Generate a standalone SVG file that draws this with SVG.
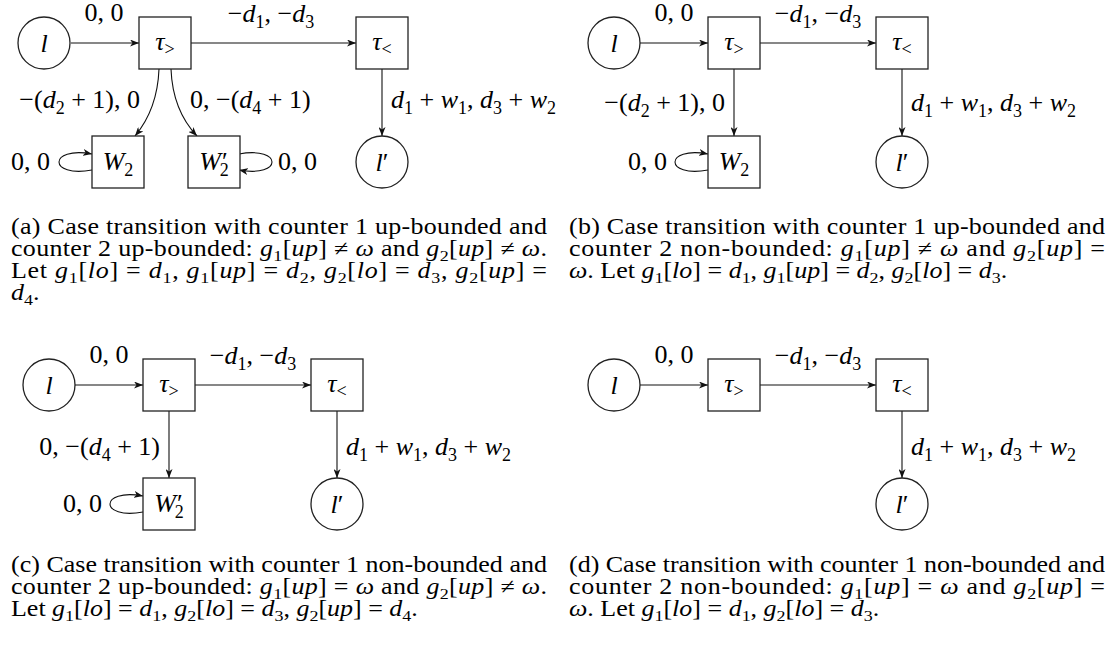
<svg xmlns="http://www.w3.org/2000/svg" width="1119" height="647" viewBox="0 0 1119 647">
<defs>
<style>
text{font-family:"Liberation Serif","Times New Roman",serif;font-size:26px;fill:#000}
.i{font-style:italic}
.sub{font-size:18px}
.node rect,.node circle{fill:#fff;stroke:#222;stroke-width:1.3}
.edge{fill:none;stroke:#111;stroke-width:1.1;marker-end:url(#arr)}
</style>
<marker id="arr" markerUnits="userSpaceOnUse" markerWidth="9" markerHeight="7" refX="9" refY="3.5" orient="auto">
<path d="M0,0 L9,3.5 L0,7 L2.5,3.5 z" fill="#111"/>
</marker>
</defs>
<rect width="1119" height="647" fill="#fff"/>

<!-- Panel (a) -->
<g id="panel-a">
<g id="a-connectors">
<path class="edge" d="M71,43 L139,43"/>
<path class="edge" d="M191,43 L356,43"/>
<path class="edge" d="M382,69 L382,136"/>
<path class="edge" d="M159,69 C158,95 150,118 135,136"/>
<path class="edge" d="M171,69 C172,95 180,118 197,136"/>
<path class="edge" d="M92,170 C48,178 48,146 92,154"/>
<path class="edge" d="M239,154 C283,146 283,178 239,170"/>
<text x="104" y="21" text-anchor="middle">0, 0</text>
<text x="271" y="22" text-anchor="middle">−<tspan class="i">d</tspan><tspan class="sub" dy="6">1</tspan><tspan dy="-6">, −</tspan><tspan class="i">d</tspan><tspan class="sub" dy="6">3</tspan></text>
<text x="140" y="108" text-anchor="end">−(<tspan class="i">d</tspan><tspan class="sub" dy="6">2</tspan><tspan dy="-6"> + 1), 0</tspan></text>
<text x="190" y="108">0, −(<tspan class="i">d</tspan><tspan class="sub" dy="6">4</tspan><tspan dy="-6"> + 1)</tspan></text>
<text x="391" y="108"><tspan class="i">d</tspan><tspan class="sub" dy="6">1</tspan><tspan dy="-6"> + </tspan><tspan class="i">w</tspan><tspan class="sub" dy="6">1</tspan><tspan dy="-6">, </tspan><tspan class="i">d</tspan><tspan class="sub" dy="6">3</tspan><tspan dy="-6"> + </tspan><tspan class="i">w</tspan><tspan class="sub" dy="6">2</tspan></text>
<text x="50" y="170" text-anchor="end">0, 0</text>
<text x="278" y="170">0, 0</text>
</g>
<g id="a-l" class="node"><circle cx="44" cy="43" r="26"/><text x="44" y="52" text-anchor="middle" class="i">l</text></g>
<g id="a-tau-gt" class="node"><rect x="139" y="17" width="52" height="52"/><text x="165" y="50" text-anchor="middle"><tspan class="i">τ</tspan><tspan class="sub" dy="5">&gt;</tspan></text></g>
<g id="a-tau-lt" class="node"><rect x="356" y="17" width="52" height="52"/><text x="382" y="50" text-anchor="middle"><tspan class="i">τ</tspan><tspan class="sub" dy="5">&lt;</tspan></text></g>
<g id="a-W2" class="node"><rect x="92" y="136" width="52" height="52"/><text x="118" y="170" text-anchor="middle"><tspan class="i">W</tspan><tspan class="sub" dy="6">2</tspan></text></g>
<g id="a-W2p" class="node"><rect x="188" y="136" width="52" height="52"/><text x="214" y="170" text-anchor="middle"><tspan class="i">W</tspan><tspan dx="1">′</tspan><tspan class="sub" dx="-8" dy="6">2</tspan></text></g>
<g id="a-lp" class="node"><circle cx="382" cy="162" r="26"/><text x="382" y="171" text-anchor="middle"><tspan class="i">l</tspan>′</text></g>
<g id="a-caption">
<text transform="translate(11 234) scale(1 0.85)" textLength="536" lengthAdjust="spacing">(a) Case transition with counter 1 up-bounded and</text>
<text transform="translate(11 256) scale(1 0.85)" textLength="536" lengthAdjust="spacing">counter 2 up-bounded: <tspan class="i">g</tspan><tspan class="sub" dy="6">1</tspan><tspan dy="-6">[</tspan><tspan class="i">up</tspan>] ≠ <tspan class="i">ω</tspan> and <tspan class="i">g</tspan><tspan class="sub" dy="6">2</tspan><tspan dy="-6">[</tspan><tspan class="i">up</tspan>] ≠ <tspan class="i">ω</tspan>.</text>
<text transform="translate(11 278) scale(1 0.85)" textLength="536" lengthAdjust="spacing">Let <tspan class="i">g</tspan><tspan class="sub" dy="6">1</tspan><tspan dy="-6">[</tspan><tspan class="i">lo</tspan>] = <tspan class="i">d</tspan><tspan class="sub" dy="6">1</tspan><tspan dy="-6">, </tspan><tspan class="i">g</tspan><tspan class="sub" dy="6">1</tspan><tspan dy="-6">[</tspan><tspan class="i">up</tspan>] = <tspan class="i">d</tspan><tspan class="sub" dy="6">2</tspan><tspan dy="-6">, </tspan><tspan class="i">g</tspan><tspan class="sub" dy="6">2</tspan><tspan dy="-6">[</tspan><tspan class="i">lo</tspan>] = <tspan class="i">d</tspan><tspan class="sub" dy="6">3</tspan><tspan dy="-6">, </tspan><tspan class="i">g</tspan><tspan class="sub" dy="6">2</tspan><tspan dy="-6">[</tspan><tspan class="i">up</tspan>] =</text>
<text transform="translate(11 300) scale(1 0.85)"><tspan class="i">d</tspan><tspan class="sub" dy="6">4</tspan><tspan dy="-6">.</tspan></text>
</g>
</g>

<!-- Panel (b) -->
<g id="panel-b">
<g id="b-connectors">
<path class="edge" d="M640,43 L708,43"/>
<path class="edge" d="M760,43 L876,43"/>
<path class="edge" d="M734,69 L734,136"/>
<path class="edge" d="M902,69 L902,136"/>
<path class="edge" d="M708,170 C664,178 664,146 708,154"/>
<text x="674" y="21" text-anchor="middle">0, 0</text>
<text x="818" y="22" text-anchor="middle">−<tspan class="i">d</tspan><tspan class="sub" dy="6">1</tspan><tspan dy="-6">, −</tspan><tspan class="i">d</tspan><tspan class="sub" dy="6">3</tspan></text>
<text x="725" y="111" text-anchor="end">−(<tspan class="i">d</tspan><tspan class="sub" dy="6">2</tspan><tspan dy="-6"> + 1), 0</tspan></text>
<text x="911" y="111"><tspan class="i">d</tspan><tspan class="sub" dy="6">1</tspan><tspan dy="-6"> + </tspan><tspan class="i">w</tspan><tspan class="sub" dy="6">1</tspan><tspan dy="-6">, </tspan><tspan class="i">d</tspan><tspan class="sub" dy="6">3</tspan><tspan dy="-6"> + </tspan><tspan class="i">w</tspan><tspan class="sub" dy="6">2</tspan></text>
<text x="667" y="170" text-anchor="end">0, 0</text>
</g>
<g id="b-l" class="node"><circle cx="614" cy="43" r="26"/><text x="614" y="52" text-anchor="middle" class="i">l</text></g>
<g id="b-tau-gt" class="node"><rect x="708" y="17" width="52" height="52"/><text x="734" y="50" text-anchor="middle"><tspan class="i">τ</tspan><tspan class="sub" dy="5">&gt;</tspan></text></g>
<g id="b-tau-lt" class="node"><rect x="876" y="17" width="52" height="52"/><text x="902" y="50" text-anchor="middle"><tspan class="i">τ</tspan><tspan class="sub" dy="5">&lt;</tspan></text></g>
<g id="b-W2" class="node"><rect x="708" y="136" width="52" height="52"/><text x="734" y="170" text-anchor="middle"><tspan class="i">W</tspan><tspan class="sub" dy="6">2</tspan></text></g>
<g id="b-lp" class="node"><circle cx="902" cy="162" r="26"/><text x="902" y="171" text-anchor="middle"><tspan class="i">l</tspan>′</text></g>
<g id="b-caption">
<text transform="translate(569 234) scale(1 0.85)" textLength="536" lengthAdjust="spacing">(b) Case transition with counter 1 up-bounded and</text>
<text transform="translate(569 256) scale(1 0.85)" textLength="536" lengthAdjust="spacing">counter 2 non-bounded: <tspan class="i">g</tspan><tspan class="sub" dy="6">1</tspan><tspan dy="-6">[</tspan><tspan class="i">up</tspan>] ≠ <tspan class="i">ω</tspan> and <tspan class="i">g</tspan><tspan class="sub" dy="6">2</tspan><tspan dy="-6">[</tspan><tspan class="i">up</tspan>] =</text>
<text transform="translate(569 278) scale(1 0.85)"><tspan class="i">ω</tspan>. Let <tspan class="i">g</tspan><tspan class="sub" dy="6">1</tspan><tspan dy="-6">[</tspan><tspan class="i">lo</tspan>] = <tspan class="i">d</tspan><tspan class="sub" dy="6">1</tspan><tspan dy="-6">, </tspan><tspan class="i">g</tspan><tspan class="sub" dy="6">1</tspan><tspan dy="-6">[</tspan><tspan class="i">up</tspan>] = <tspan class="i">d</tspan><tspan class="sub" dy="6">2</tspan><tspan dy="-6">, </tspan><tspan class="i">g</tspan><tspan class="sub" dy="6">2</tspan><tspan dy="-6">[</tspan><tspan class="i">lo</tspan>] = <tspan class="i">d</tspan><tspan class="sub" dy="6">3</tspan><tspan dy="-6">.</tspan></text>
</g>
</g>

<!-- Panel (c) -->
<g id="panel-c">
<g id="c-connectors">
<path class="edge" d="M75,385 L143,385"/>
<path class="edge" d="M195,385 L311,385"/>
<path class="edge" d="M169,411 L169,478"/>
<path class="edge" d="M337,411 L337,478"/>
<path class="edge" d="M143,512 C99,520 99,488 143,496"/>
<text x="109" y="363" text-anchor="middle">0, 0</text>
<text x="253" y="364" text-anchor="middle">−<tspan class="i">d</tspan><tspan class="sub" dy="6">1</tspan><tspan dy="-6">, −</tspan><tspan class="i">d</tspan><tspan class="sub" dy="6">3</tspan></text>
<text x="160" y="455" text-anchor="end">0, −(<tspan class="i">d</tspan><tspan class="sub" dy="6">4</tspan><tspan dy="-6"> + 1)</tspan></text>
<text x="346" y="455"><tspan class="i">d</tspan><tspan class="sub" dy="6">1</tspan><tspan dy="-6"> + </tspan><tspan class="i">w</tspan><tspan class="sub" dy="6">1</tspan><tspan dy="-6">, </tspan><tspan class="i">d</tspan><tspan class="sub" dy="6">3</tspan><tspan dy="-6"> + </tspan><tspan class="i">w</tspan><tspan class="sub" dy="6">2</tspan></text>
<text x="102" y="512" text-anchor="end">0, 0</text>
</g>
<g id="c-l" class="node"><circle cx="49" cy="385" r="26"/><text x="49" y="394" text-anchor="middle" class="i">l</text></g>
<g id="c-tau-gt" class="node"><rect x="143" y="359" width="52" height="52"/><text x="169" y="392" text-anchor="middle"><tspan class="i">τ</tspan><tspan class="sub" dy="5">&gt;</tspan></text></g>
<g id="c-tau-lt" class="node"><rect x="311" y="359" width="52" height="52"/><text x="337" y="392" text-anchor="middle"><tspan class="i">τ</tspan><tspan class="sub" dy="5">&lt;</tspan></text></g>
<g id="c-W2p" class="node"><rect x="143" y="478" width="52" height="52"/><text x="169" y="512" text-anchor="middle"><tspan class="i">W</tspan><tspan dx="1">′</tspan><tspan class="sub" dx="-8" dy="6">2</tspan></text></g>
<g id="c-lp" class="node"><circle cx="337" cy="504" r="26"/><text x="337" y="513" text-anchor="middle"><tspan class="i">l</tspan>′</text></g>
<g id="c-caption">
<text transform="translate(11 572) scale(1 0.85)" textLength="536" lengthAdjust="spacing">(c) Case transition with counter 1 non-bounded and</text>
<text transform="translate(11 594) scale(1 0.85)" textLength="536" lengthAdjust="spacing">counter 2 up-bounded: <tspan class="i">g</tspan><tspan class="sub" dy="6">1</tspan><tspan dy="-6">[</tspan><tspan class="i">up</tspan>] = <tspan class="i">ω</tspan> and <tspan class="i">g</tspan><tspan class="sub" dy="6">2</tspan><tspan dy="-6">[</tspan><tspan class="i">up</tspan>] ≠ <tspan class="i">ω</tspan>.</text>
<text transform="translate(11 616) scale(1 0.85)">Let <tspan class="i">g</tspan><tspan class="sub" dy="6">1</tspan><tspan dy="-6">[</tspan><tspan class="i">lo</tspan>] = <tspan class="i">d</tspan><tspan class="sub" dy="6">1</tspan><tspan dy="-6">, </tspan><tspan class="i">g</tspan><tspan class="sub" dy="6">2</tspan><tspan dy="-6">[</tspan><tspan class="i">lo</tspan>] = <tspan class="i">d</tspan><tspan class="sub" dy="6">3</tspan><tspan dy="-6">, </tspan><tspan class="i">g</tspan><tspan class="sub" dy="6">2</tspan><tspan dy="-6">[</tspan><tspan class="i">up</tspan>] = <tspan class="i">d</tspan><tspan class="sub" dy="6">4</tspan><tspan dy="-6">.</tspan></text>
</g>
</g>

<!-- Panel (d) -->
<g id="panel-d">
<g id="d-connectors">
<path class="edge" d="M640,385 L708,385"/>
<path class="edge" d="M760,385 L876,385"/>
<path class="edge" d="M902,411 L902,478"/>
<text x="674" y="363" text-anchor="middle">0, 0</text>
<text x="818" y="364" text-anchor="middle">−<tspan class="i">d</tspan><tspan class="sub" dy="6">1</tspan><tspan dy="-6">, −</tspan><tspan class="i">d</tspan><tspan class="sub" dy="6">3</tspan></text>
<text x="911" y="455"><tspan class="i">d</tspan><tspan class="sub" dy="6">1</tspan><tspan dy="-6"> + </tspan><tspan class="i">w</tspan><tspan class="sub" dy="6">1</tspan><tspan dy="-6">, </tspan><tspan class="i">d</tspan><tspan class="sub" dy="6">3</tspan><tspan dy="-6"> + </tspan><tspan class="i">w</tspan><tspan class="sub" dy="6">2</tspan></text>
</g>
<g id="d-l" class="node"><circle cx="614" cy="385" r="26"/><text x="614" y="394" text-anchor="middle" class="i">l</text></g>
<g id="d-tau-gt" class="node"><rect x="708" y="359" width="52" height="52"/><text x="734" y="392" text-anchor="middle"><tspan class="i">τ</tspan><tspan class="sub" dy="5">&gt;</tspan></text></g>
<g id="d-tau-lt" class="node"><rect x="876" y="359" width="52" height="52"/><text x="902" y="392" text-anchor="middle"><tspan class="i">τ</tspan><tspan class="sub" dy="5">&lt;</tspan></text></g>
<g id="d-lp" class="node"><circle cx="902" cy="504" r="26"/><text x="902" y="513" text-anchor="middle"><tspan class="i">l</tspan>′</text></g>
<g id="d-caption">
<text transform="translate(569 572) scale(1 0.85)" textLength="536" lengthAdjust="spacing">(d) Case transition with counter 1 non-bounded and</text>
<text transform="translate(569 594) scale(1 0.85)" textLength="536" lengthAdjust="spacing">counter 2 non-bounded: <tspan class="i">g</tspan><tspan class="sub" dy="6">1</tspan><tspan dy="-6">[</tspan><tspan class="i">up</tspan>] = <tspan class="i">ω</tspan> and <tspan class="i">g</tspan><tspan class="sub" dy="6">2</tspan><tspan dy="-6">[</tspan><tspan class="i">up</tspan>] =</text>
<text transform="translate(569 616) scale(1 0.85)"><tspan class="i">ω</tspan>. Let <tspan class="i">g</tspan><tspan class="sub" dy="6">1</tspan><tspan dy="-6">[</tspan><tspan class="i">lo</tspan>] = <tspan class="i">d</tspan><tspan class="sub" dy="6">1</tspan><tspan dy="-6">, </tspan><tspan class="i">g</tspan><tspan class="sub" dy="6">2</tspan><tspan dy="-6">[</tspan><tspan class="i">lo</tspan>] = <tspan class="i">d</tspan><tspan class="sub" dy="6">3</tspan><tspan dy="-6">.</tspan></text>
</g>
</g>
</svg>
